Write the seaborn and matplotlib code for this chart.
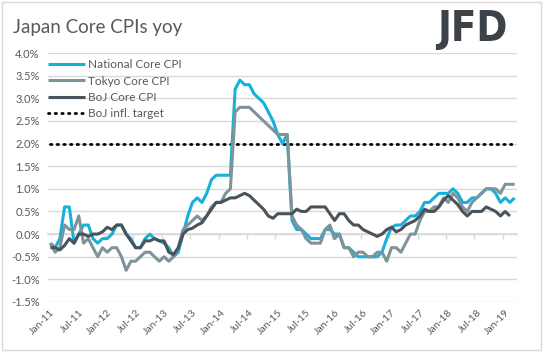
import numpy as np
import pandas as pd
import matplotlib
matplotlib.use("Agg")
import matplotlib.pyplot as plt
import seaborn as sns
from matplotlib.patches import Rectangle

# ---------------- data ----------------
months = pd.date_range("2011-01-01", periods=99, freq="MS")

national = [
    -0.2, -0.3, -0.1, 0.6, 0.6, -0.2, 0.0, 0.2, 0.2, -0.1, -0.2, -0.1,
    -0.1, 0.0, 0.2, 0.2, 0.0, -0.1, -0.3, -0.3, -0.1, 0.0, -0.1, -0.15,
    -0.2, -0.3, -0.5, -0.4, 0.0, 0.4, 0.7, 0.8, 0.7, 0.9, 1.2, 1.3,
    1.3, 1.3, 1.3, 3.2, 3.4, 3.3, 3.3, 3.1, 3.0, 2.9, 2.7, 2.5,
    2.2, 2.0, 2.2, 0.3, 0.1, 0.1, 0.0, -0.1, -0.1, -0.1, 0.1, 0.1,
    0.0, 0.0, -0.3, -0.3, -0.4, -0.5, -0.5, -0.5, -0.5, -0.5, -0.4, -0.1,
    0.15, 0.2, 0.2, 0.3, 0.4, 0.4, 0.5, 0.7, 0.7, 0.8, 0.9, 0.9,
    0.9, 1.0, 0.9, 0.7, 0.7, 0.8, 0.8, 0.9, 1.0, 1.0, 0.9, 0.7,
    0.8, 0.7, 0.8,
]

tokyo = [
    -0.2, -0.4, -0.3, 0.2, 0.1, 0.1, 0.4, -0.2, -0.1, -0.3, -0.5, -0.3,
    -0.4, -0.3, -0.3, -0.5, -0.8, -0.6, -0.6, -0.5, -0.4, -0.4, -0.5, -0.6,
    -0.5, -0.6, -0.5, -0.3, 0.1, 0.2, 0.3, 0.4, 0.3, 0.4, 0.6, 0.7,
    0.7, 0.9, 1.0, 2.7, 2.8, 2.8, 2.8, 2.7, 2.6, 2.5, 2.4, 2.3,
    2.2, 2.2, 2.2, 0.4, 0.2, 0.1, -0.1, -0.2, -0.2, -0.2, 0.1, 0.2,
    -0.1, 0.0, -0.3, -0.3, -0.5, -0.4, -0.4, -0.5, -0.5, -0.4, -0.4, -0.6,
    -0.3, -0.3, -0.4, -0.2, 0.0, 0.0, 0.3, 0.5, 0.5, 0.6, 0.6, 0.8,
    0.7, 0.9, 0.8, 0.6, 0.5, 0.7, 0.8, 0.9, 1.0, 1.0, 1.0, 0.9,
    1.1, 1.1, 1.1,
]

boj = [
    -0.3, -0.3, -0.35, -0.25, -0.1, -0.2, 0.0, 0.0, -0.05, 0.0, 0.0, 0.05,
    0.15, 0.1, 0.2, 0.2, 0.0, -0.15, -0.3, -0.3, -0.15, -0.15, -0.1, -0.15,
    -0.15, -0.4, -0.45, -0.3, 0.0, 0.1, 0.13, 0.2, 0.25, 0.4, 0.55, 0.7,
    0.7, 0.75, 0.8, 0.8, 0.85, 0.9, 0.85, 0.75, 0.65, 0.55, 0.4, 0.35,
    0.45, 0.45, 0.45, 0.45, 0.55, 0.5, 0.5, 0.6, 0.6, 0.6, 0.6, 0.45,
    0.3, 0.45, 0.45, 0.3, 0.2, 0.2, 0.1, 0.05, 0.0, -0.05, 0.0, 0.1,
    0.15, 0.05, 0.1, 0.2, 0.25, 0.3, 0.4, 0.55, 0.5, 0.5, 0.6, 0.75,
    0.85, 0.75, 0.65, 0.5, 0.4, 0.5, 0.5, 0.5, 0.6, 0.55, 0.5, 0.4,
    0.5, 0.4, np.nan,
]

target = [2.0] * 99

series_names = ["National Core CPI", "Tokyo Core CPI", "BoJ Core CPI"]
target_name = "BoJ infl. target"
tick_labels = ["Jan-11", "Jul-11", "Jan-12", "Jul-12", "Jan-13", "Jul-13",
               "Jan-14", "Jul-14", "Jan-15", "Jul-15", "Jan-16", "Jul-16",
               "Jan-17", "Jul-17", "Jan-18", "Jul-18", "Jan-19"]
y_ticks = [4.0, 3.5, 3.0, 2.5, 2.0, 1.5, 1.0, 0.5, 0.0, -0.5, -1.0, -1.5]

# ---------------- frame ----------------
idx = np.arange(len(months))
df = pd.DataFrame({"t": idx, series_names[0]: national,
                   series_names[1]: tokyo, series_names[2]: boj})
long = df.melt(id_vars="t", var_name="series", value_name="value").dropna()
tgt = pd.DataFrame({"t": idx, "value": target})

sns.set_theme(style="white")
plt.rcParams["font.family"] = ["Lato", "DejaVu Sans"]

W, H = 543, 352
fig = plt.figure(figsize=(W / 100, H / 100), dpi=100)
ax = fig.add_axes([48 / W, 1 - 302 / H, (517 - 48) / W, (302 - 53) / H])

colors = ["#16B0DA", "#7F939B", "#4A535A"]
grid_c = "#D9D9D9"
text_c = "#595959"

sns.lineplot(data=long, x="t", y="value", hue="series", hue_order=series_names,
             palette=colors, linewidth=2.2, errorbar=None, ax=ax, legend=False,
             zorder=3)
sns.lineplot(data=tgt, x="t", y="value", color="black", linewidth=2.0,
             linestyle=(0, (0.5, 1.9)), dash_capstyle="round", errorbar=None,
             ax=ax, zorder=2)
for ln in ax.get_lines():
    ln.set_solid_capstyle("butt")
    ln.set_solid_joinstyle("round")

ax.set_xlim(-0.5, len(months) - 0.5)
ax.set_ylim(-1.5, 4.0)
ax.set_yticks(y_ticks)
ax.set_yticklabels([f"{v:.1f}%" for v in y_ticks])
ax.set_xticks(np.arange(0, len(months), 6))
ax.set_xticklabels(tick_labels, rotation=45, ha="right", rotation_mode="anchor")
ax.tick_params(axis="x", length=0, pad=4, labelsize=7.5, labelcolor=text_c)
ax.tick_params(axis="y", length=0, pad=6, labelsize=8, labelcolor=text_c)
ax.set_xlabel("")
ax.set_ylabel("")
for s in ax.spines.values():
    s.set_visible(False)
ax.yaxis.grid(True, color=grid_c, linewidth=1.0, zorder=0)
ax.set_axisbelow(True)

# category axis crossing at 0 with tick marks between categories
sec = ax.secondary_xaxis(1.5 / 5.5)
sec.set_xticks(np.arange(5.5, len(months), 6))
sec.tick_params(axis="x", direction="out", length=3.5, color=grid_c,
                labelbottom=False, labeltop=False, width=1)
for name, s in sec.spines.items():
    s.set_color(grid_c)

# legend
handles = ax.get_lines()[:4]
leg = ax.legend(handles, series_names + [target_name], loc="upper left",
                bbox_to_anchor=(0.0, 0.975), frameon=False, fontsize=8.5,
                handlelength=3.1, handletextpad=0.3, labelspacing=0.45,
                borderpad=0, borderaxespad=0)
for t in leg.get_texts():
    t.set_color(text_c)

# title and logo
fig.text(13 / W, 1 - 27 / H, "Japan Core CPIs yoy", fontsize=13.5, color=text_c,
         va="center", ha="left", fontweight="normal")
fig.text(508 / W, 1 - 29 / H, "JFD", fontsize=30, color="#3C4247",
         va="center", ha="right", fontweight="bold",
         family="DejaVu Sans", fontstretch="condensed")

fig.patches.append(Rectangle((2 / W, 2 / H), (W - 4) / W, (H - 4) / H,
                             transform=fig.transFigure, fill=False,
                             edgecolor=grid_c, linewidth=1))

fig.savefig("out.png", dpi=100, facecolor="white")
